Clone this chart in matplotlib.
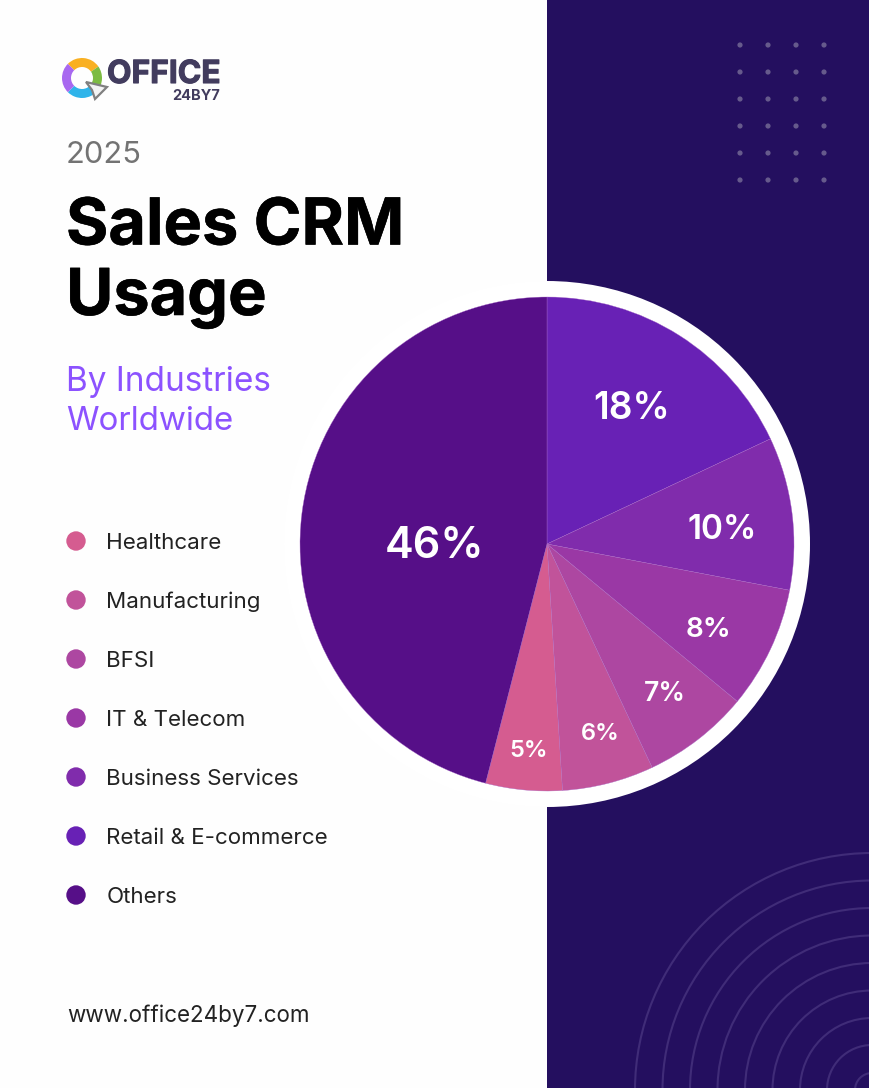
import matplotlib
matplotlib.use("Agg")
import matplotlib.pyplot as plt
import matplotlib.patheffects as pe
from matplotlib.patches import Circle, Rectangle, Wedge, Polygon, Arc

plt.rcParams['font.family'] = ['Inter', 'DejaVu Sans']

W, H = 870, 1088

# data
industries = ['Healthcare', 'Manufacturing', 'BFSI', 'IT & Telecom',
              'Business Services', 'Retail & E-commerce', 'Others']
shares = [5, 6, 7, 8, 10, 18, 46]
colors = ['#D55C90', '#C1539A', '#AD47A1', '#9A38A5', '#802CAC', '#6821B5', '#560F88']

# drawing order of the pie, clockwise from 12 o'clock
pie_order = [5, 4, 3, 2, 1, 0, 6]
label_xy = [(632, 409), (722, 530), (709, 630), (665, 694), (600, 734), (529, 751), (435, 547)]
label_size = [26.7, 24, 20, 19, 17, 17, 31]

dot_x = [740, 768, 796, 824]
dot_y = [45, 72, 99, 126, 153, 180]
arc_radii = [237, 209.5, 182, 154.5, 127, 99.5, 72, 45, 17]
logo_cols = ['#F9B022', '#7DBB42', '#2FB4EA', '#A868F0']


def Y(py):
    return H - py


fig = plt.figure(figsize=(W / 100, H / 100), dpi=100)
ax = fig.add_axes([0, 0, 1, 1])
ax.set_xlim(0, W)
ax.set_ylim(0, H)
ax.axis('off')

# background panels
ax.add_patch(Rectangle((0, 0), 547, H, fc='#FEFEFE', ec='none', zorder=0))
ax.add_patch(Rectangle((547, 0), W - 547, H, fc='#240F5F', ec='none', zorder=0))

# dots and rings on the dark panel
for x in dot_x:
    for y in dot_y:
        ax.add_patch(Circle((x, Y(y)), 2.6, fc='#665A8C', ec='none', zorder=1))
for r in arc_radii:
    ax.add_patch(Arc((872, Y(1090)), 2 * r, 2 * r, theta1=90, theta2=180,
                     ec='#402C78', lw=1.5, zorder=1))

# pie with white ring
cx, cy, R = 547, Y(544), 247
ax.add_patch(Circle((cx, cy), 263, fc='white', ec='none', zorder=2))
wedges, _ = ax.pie([shares[i] for i in pie_order],
                   colors=[colors[i] for i in pie_order],
                   center=(cx, cy), radius=R, startangle=90, counterclock=False,
                   wedgeprops=dict(linewidth=0.25, edgecolor='#A868C8', zorder=3),
                   frame=False)
ax.set_xlim(0, W)
ax.set_ylim(0, H)
ax.set_aspect('auto')

for i, (lx, ly), fs in zip(pie_order, label_xy, label_size):
    ax.text(lx, Y(ly), f'{shares[i]}%', color='white', fontsize=fs, fontweight=600,
            ha='center', va='center', zorder=4)

# header
ax.text(65.5, Y(155), '2025', fontsize=22.2, color='#737373', va='center', ha='left')
title_fx = [pe.withStroke(linewidth=0.4, foreground='black')]
ax.text(66, Y(227.5), 'Sales CRM', fontsize=46.6, fontweight='bold', color='black',
        va='center', ha='left', path_effects=title_fx)
ax.text(66, Y(298.5), 'Usage', fontsize=46.6, fontweight='bold', color='black',
        va='center', ha='left', path_effects=title_fx)
ax.text(66.5, Y(382), 'By Industries', fontsize=24, color='#8C52FF', va='center', ha='left')
ax.text(66.5, Y(422), 'Worldwide', fontsize=23.8, color='#8C52FF', va='center', ha='left')

# legend
for k, (name, col) in enumerate(zip(industries, colors)):
    py = 541 + 59 * k
    ax.add_patch(Circle((76, Y(py)), 9.7, fc=col, ec='none', zorder=3))
    ax.text(106.5, Y(py + 2), name, fontsize=16.1, color='#222222', va='center', ha='left', zorder=3)

ax.text(67.5, Y(1016), 'www.office24by7.com', fontsize=16.15, color='#222222', va='center', ha='left')

# logo
cxl, cyl = 82, Y(78)
for col, t1, t2 in zip(logo_cols, [35, -40, -135, 135], [135, 35, -40, 225]):
    ax.add_patch(Wedge((cxl, cyl), 20, t1, t2, width=9, fc=col, ec='none', zorder=3))
ax.add_patch(Polygon([(86, Y(82)), (107, Y(87)), (95, Y(99)), (92, Y(90))], closed=True,
                     fc='#F4F4F4', ec='#808080', lw=1.6, zorder=4))
logo_fx = [pe.withStroke(linewidth=0.8, foreground='#423C5E')]
ax.text(107, Y(83), 'OFFICE', fontsize=22.9, fontweight='bold', color='#423C5E',
        va='baseline', ha='left', zorder=4, path_effects=logo_fx)
ax.text(220, Y(99.5), '24BY7', fontsize=10.5, fontweight='bold', color='#423C5E',
        va='baseline', ha='right', zorder=4)

fig.savefig('out.png', dpi=100)
